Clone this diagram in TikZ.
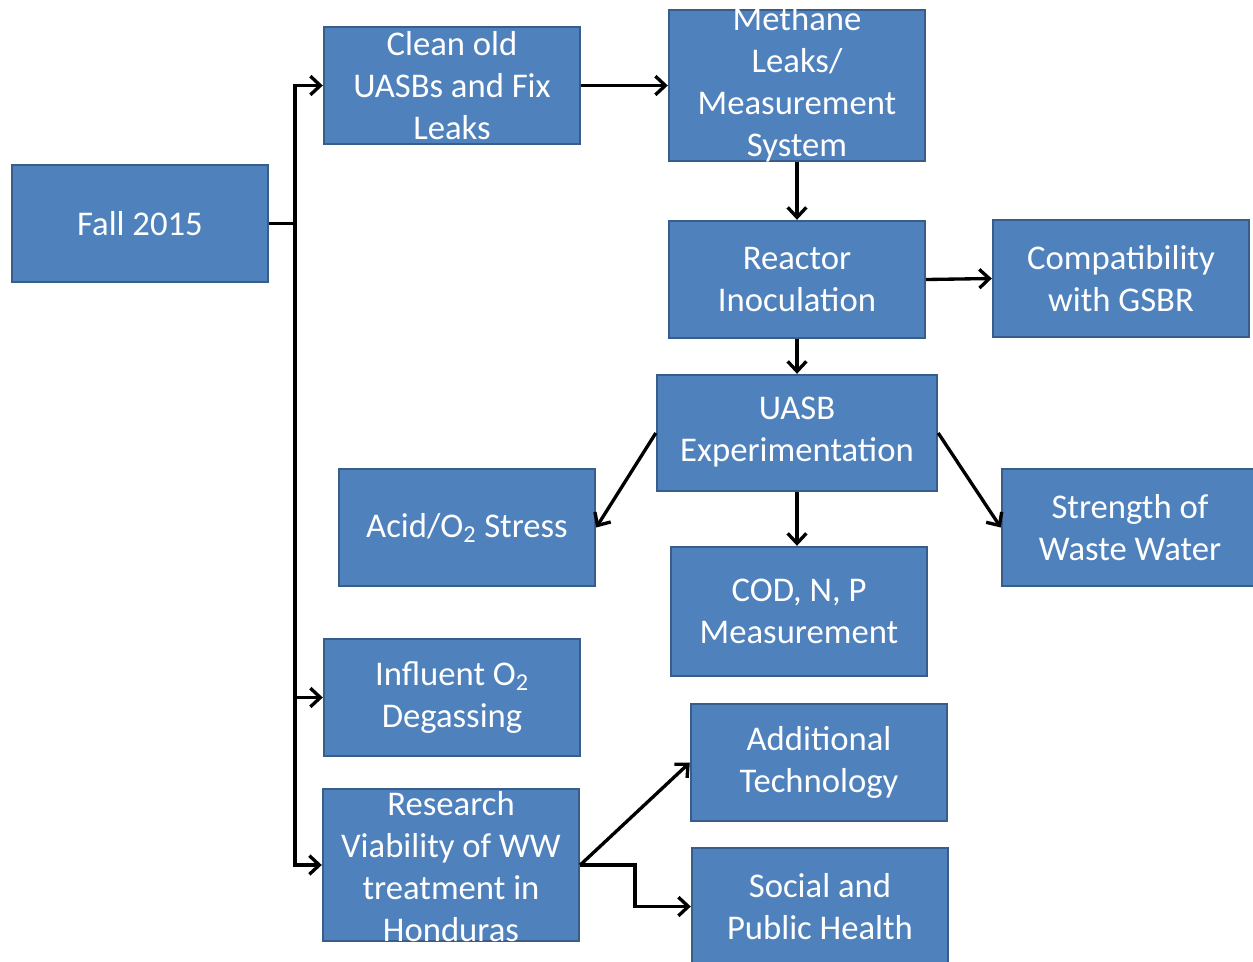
\documentclass[tikz,border=0pt]{standalone}
\usepackage{fontspec}
\setmainfont{Carlito}
\usetikzlibrary{arrows.meta}
\definecolor{boxfill}{RGB}{79,129,189}
\definecolor{boxline}{RGB}{56,93,138}
\begin{document}
\begin{tikzpicture}[x=0.75pt,y=0.75pt,yscale=-1,xscale=1,
  box/.style={draw=boxline,fill=boxfill,line width=1.8pt,inner sep=0pt,minimum width=192pt,minimum height=87.75pt},
  txt/.style={text=white,font=\fontsize{26}{31.5}\selectfont,align=center,inner sep=0pt},
  arr/.style={line width=2.5pt,-{Straight Barb[length=7.5pt,width=14pt,line width=2.5pt]}}]
\useasboundingbox (0,0) rectangle (1253,961);

%Shape: Rectangle
\node [box] (fall) at (140,223.5) {};
\node [box] (clean) at (452,85.5) {};
\node [box,minimum height=113.25pt] (methane) at (797,85.5) {};
\node [box] (reactor) at (797,279.5) {};
\node [box] (compat) at (1121,278.5) {};
\node [box,minimum width=210pt,minimum height=87pt] (uasb) at (797,433) {};
\node [box] (acid) at (467,527.5) {};
\node [box,minimum height=96.75pt] (cod) at (799,611.5) {};
\node [box] (strength) at (1130,527.5) {};
\node [box] (influent) at (452,697.5) {};
\node [box,minimum height=114pt] (research) at (451,865) {};
\node [box] (additional) at (819,762.5) {};
\node [box] (social) at (820,906.5) {};

% Text Node
\node [txt] (fall-t) at (fall) {Fall 2015};
\node [txt] (clean-t) at (clean) {Clean old\\UASBs and Fix\\Leaks};
\node [txt] (methane-t) at ([yshift=-0.8pt]methane) {Methane\\Leaks/\\Measurement\\System};
\node [txt] (reactor-t) at (reactor) {Reactor\\Inoculation};
\node [txt] (compat-t) at (compat) {Compatibility\\with GSBR};
\node [txt] (uasb-t) at ([yshift=-1pt]uasb) {UASB\\Experimentation};
\node [txt] (acid-t) at (acid) {Acid/O\textsubscript{2} Stress};
\node [txt] (cod-t) at (cod) {COD, N, P\\Measurement};
\node [txt] (strength-t) at (strength) {Strength of\\Waste Water};
\node [txt] (influent-t) at (influent) {Influent O\textsubscript{2}\\Degassing};
\node [txt] (research-t) at ([yshift=1.2pt]research) {Research\\Viability of WW\\treatment in\\Honduras};
\node [txt] (additional-t) at (additional) {Additional\\Technology};
\node [txt] (social-t) at (social) {Social and\\Public Health};

%Straight Lines
\coordinate (trunk) at (295,223.5);
\coordinate (fork) at (635,865);
\draw [arr] (fall.east) -- (trunk) |- (clean.west);
\draw [arr] (trunk) |- (influent.west);
\draw [arr] (trunk) |- (research.west);
\draw [arr] (clean.east) -- (methane.west);
\draw [arr] (methane.south) -- (reactor.north);
\draw [arr] (reactor.east) -- (compat.west);
\draw [arr] (reactor.south) -- (uasb.north);
\draw [arr] (uasb.west) -- (acid.east);
\draw [arr] (uasb.east) -- (strength.west);
\draw [arr] (uasb.south) -- (uasb.south |- cod.north);
\draw [arr] (research.east) -- (additional.west);
\draw [arr] (research.east) -- (fork) |- (social.west);

\end{tikzpicture}
\end{document}
